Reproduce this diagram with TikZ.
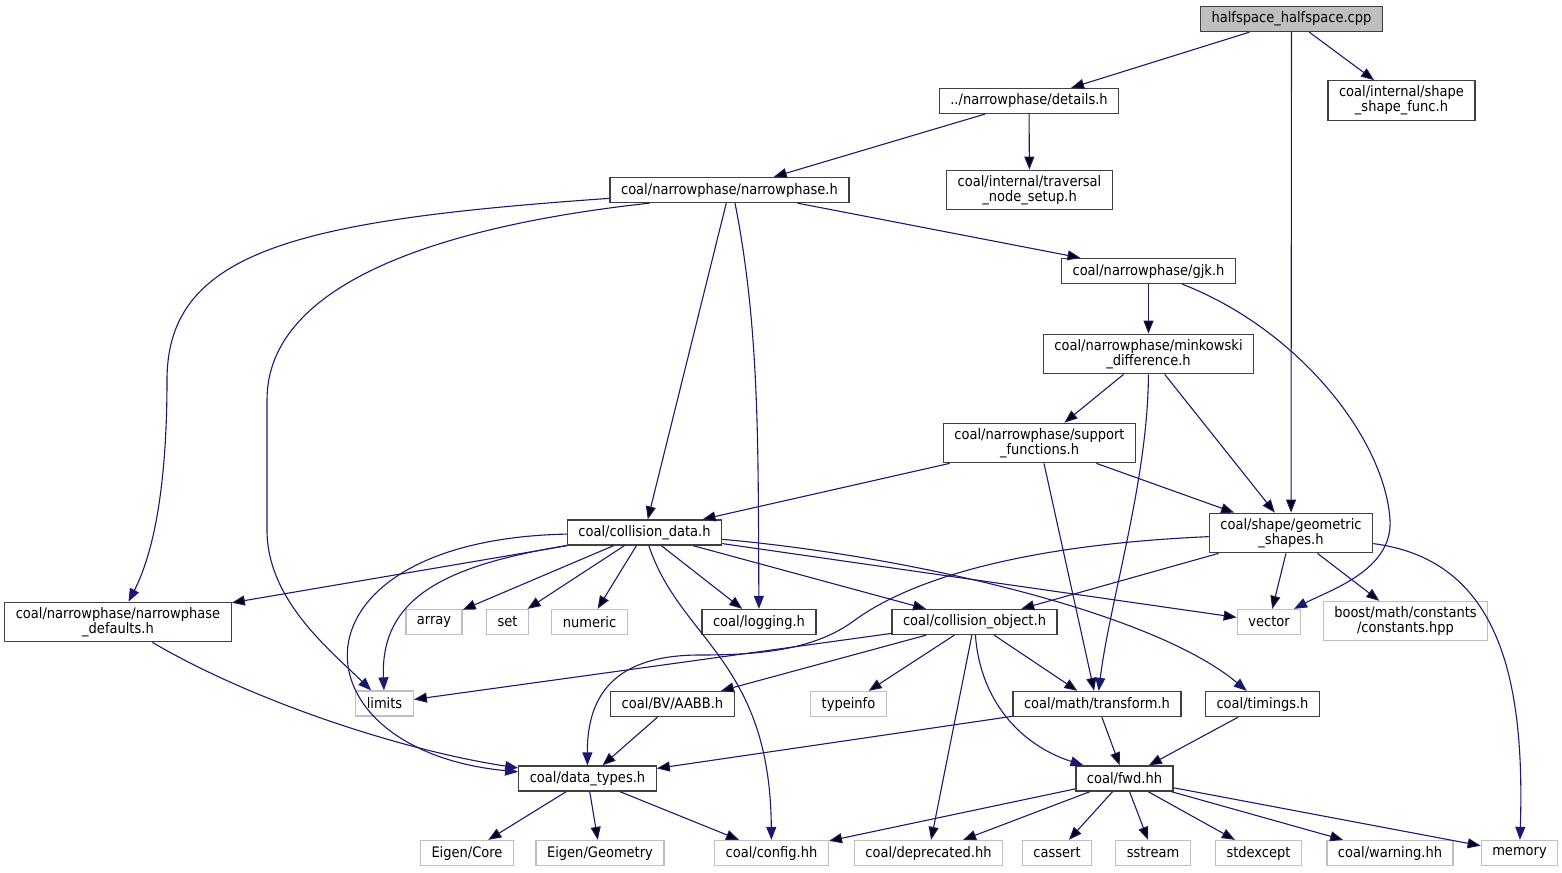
\documentclass[tikz,border=0pt]{standalone}
\usepackage{fontspec}
\setmainfont{DejaVu Sans Condensed}
\usepackage{tikz}
\usetikzlibrary{arrows.meta}
\definecolor{edgeblue}{HTML}{191970}
\definecolor{boxgray}{HTML}{BFBFBF}
\definecolor{boxline}{HTML}{404040}
\tikzstyle{file}=[draw=boxline, line width=1.3pt, fill=white, inner xsep=11pt, inner ysep=5pt, minimum height=25pt, align=center, font=\fontsize{14.5}{15}\selectfont]
\tikzstyle{sysfile}=[file, draw=boxgray]
\tikzstyle{root}=[file, fill=boxgray]
\tikzstyle{arrow}=[draw=edgeblue, line width=1.1pt, -{Triangle[length=13pt, width=10pt]}]

\begin{document}
\begin{tikzpicture}[x=1pt, y=-1pt]
	\useasboundingbox (0,0) rectangle (1562,872);
	\begin{scope}
		\node (cpp) at (1291.5, 19)[root] {halfspace\_halfspace.cpp};
		\node (details) at (1029, 101)[file] {../narrowphase/details.h};
		\node (ssfunc) at (1401.5, 100.5)[file] {coal/internal/shape\\\_shape\_func.h};
		\node (np) at (729.5, 190)[file] {coal/narrowphase/narrowphase.h};
		\node (trav) at (1029.5, 190)[file] {coal/internal/traversal\\\_node\_setup.h};
		\node (gjk) at (1148.5, 271)[file] {coal/narrowphase/gjk.h};
		\node (mink) at (1148.5, 354)[file] {coal/narrowphase/minkowski\\\_difference.h};
		\node (support) at (1039.5, 443)[file] {coal/narrowphase/support\\\_functions.h};
		\node (geom) at (1291, 533)[file] {coal/shape/geometric\\\_shapes.h};
		\node (cdata) at (644.5, 532.5)[file] {coal/collision\_data.h};
		\node (npdef) at (118, 622)[file] {coal/narrowphase/narrowphase\\\_defaults.h};
		\node (limits) at (384.5, 703.5)[sysfile] {limits};
		\node (array) at (434, 622)[sysfile] {array};
		\node (set) at (507.5, 622)[sysfile] {set};
		\node (numeric) at (589.5, 622)[sysfile] {numeric};
		\node (logging) at (759, 622)[file] {coal/logging.h};
		\node (cobj) at (974.5, 622)[file] {coal/collision\_object.h};
		\node (vector) at (1269, 622)[sysfile] {vector};
		\node (boost) at (1405.5, 621)[sysfile] {boost/math/constants\\/constants.hpp};
		\node (aabb) at (672.5, 704)[file] {coal/BV/AABB.h};
		\node (typeinfo) at (848.5, 704)[sysfile] {typeinfo};
		\node (transform) at (1097, 704)[file] {coal/math/transform.h};
		\node (timings) at (1262.5, 704)[file] {coal/timings.h};
		\node (dtypes) at (587.5, 778.5)[file] {coal/data\_types.h};
		\node (fwd) at (1124.5, 778.5)[file] {coal/fwd.hh};
		\node (ecore) at (467, 853)[sysfile] {Eigen/Core};
		\node (egeom) at (600, 853)[sysfile] {Eigen/Geometry};
		\node (config) at (771.5, 853)[sysfile] {coal/config.hh};
		\node (deprec) at (928.5, 853)[sysfile] {coal/deprecated.hh};
		\node (cassert) at (1057, 853)[sysfile] {cassert};
		\node (sstream) at (1153, 853)[sysfile] {sstream};
		\node (stdexcept) at (1258.5, 853)[sysfile] {stdexcept};
		\node (warning) at (1390, 853)[sysfile] {coal/warning.hh};
		\node (memory) at (1519.5, 853)[sysfile] {memory};
	\end{scope}
	\begin{scope}
		% top part
		\path [arrow] (cpp) edge (details);
		\path [arrow] (cpp) edge (geom);
		\path [arrow] (cpp) edge (ssfunc);
		\path [arrow] (details) edge (np);
		\path [arrow] (details) edge (trav);
		\draw [arrow] (np) .. controls (300,220) and (167,250) .. (167,380) .. controls (167,500) and (150,560) .. (npdef);
		\draw [arrow] ([xshift=-80pt]np.south) .. controls (450,225) and (267,280) .. (267,400) -- (267,530) .. controls (267,600) and (330,650) .. (limits);
		\path [arrow] (np) edge (cdata);
		\draw [arrow] ([xshift=5.5pt]np.south) .. controls (760,330) and (758,450) .. (logging);
		\path [arrow] (np) edge (gjk);
		\path [arrow] (gjk) edge (mink);
		\draw [arrow] (gjk) .. controls (1300,330) and (1385,440) .. (1390,520) .. controls (1393,570) and (1330,590) .. (vector);
		\path [arrow] (mink) edge (support);
		\path [arrow] (mink) edge (geom);
		\draw [arrow] (mink) .. controls (1148,480) and (1110,600) .. (transform);
		\path [arrow] (support) edge (cdata);
		\path [arrow] (support) edge (geom);
		\path [arrow] (support) edge (transform);
		% collision data
		\path [arrow] (cdata) edge (npdef);
		\draw [arrow] (cdata) .. controls (450,565) and (380,595) .. (limits);
		\path [arrow] (cdata) edge (array);
		\path [arrow] (cdata) edge (set);
		\path [arrow] (cdata) edge (numeric);
		\path [arrow] (cdata) edge (logging);
		\path [arrow] (cdata) edge (cobj);
		\path [arrow] (cdata) edge (vector);
		\draw [arrow] (cdata) .. controls (900,555) and (1150,610) .. (timings);
		\draw [arrow] (cdata) .. controls (680,640) and (770,660) .. (config);
		\draw [arrow] (cdata) .. controls (280,540) and (290,750) .. (dtypes);
		\draw [arrow] (npdef) .. controls (250,700) and (400,750) .. (dtypes);
		% geometric shapes
		\path [arrow] (geom) edge (cobj);
		\path [arrow] (geom) edge (vector);
		\path [arrow] (geom) edge (boost);
		\draw [arrow] (geom) .. controls (1500,560) and (1525,680) .. (memory);
		\draw [arrow] (geom) .. controls (1020,545) and (910,580) .. (855,620) .. controls (815,650) and (760,655) .. (700,655) .. controls (620,655) and (587,690) .. (dtypes);
		% collision object
		\path [arrow] (cobj) edge (limits);
		\path [arrow] (cobj) edge (aabb);
		\path [arrow] (cobj) edge (typeinfo);
		\path [arrow] (cobj) edge (transform);
		\path [arrow] (cobj) edge (deprec);
		\draw [arrow] (cobj) .. controls (980,700) and (1020,745) .. (fwd);
		\path [arrow] (aabb) edge (dtypes);
		\path [arrow] (transform) edge (dtypes);
		\path [arrow] (transform) edge (fwd);
		\path [arrow] (timings) edge (fwd);
		% bottom row
		\path [arrow] (dtypes) edge (ecore);
		\path [arrow] (dtypes) edge (egeom);
		\path [arrow] (dtypes) edge (config);
		\path [arrow] (fwd) edge (config);
		\path [arrow] (fwd) edge (deprec);
		\path [arrow] (fwd) edge (cassert);
		\path [arrow] (fwd) edge (sstream);
		\path [arrow] (fwd) edge (stdexcept);
		\path [arrow] (fwd) edge (warning);
		\path [arrow] (fwd) edge (memory);
	\end{scope}
\end{tikzpicture}
\end{document}
